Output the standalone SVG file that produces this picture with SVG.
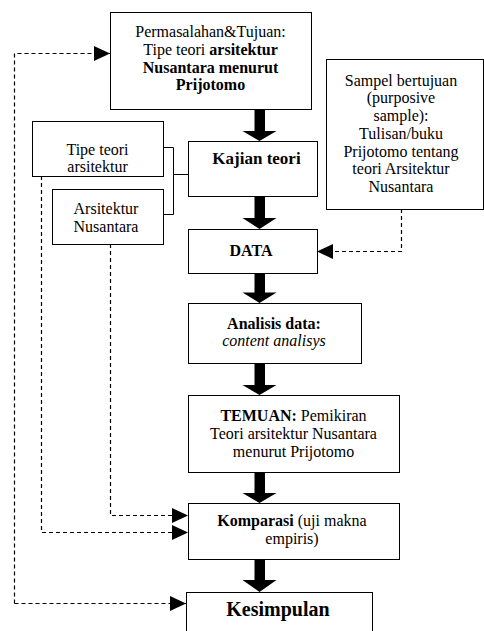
<svg xmlns="http://www.w3.org/2000/svg" width="484" height="631" viewBox="0 0 484 631">
<style>
.box{fill:#fff;stroke:#000;stroke-width:1}
text{font-family:"Liberation Serif","Times New Roman",serif;font-size:16px;fill:#000;text-anchor:middle}
.b{font-weight:bold}
.i{font-style:italic}
.dash{fill:none;stroke:#000;stroke-width:1.2;stroke-dasharray:4 3}
.solid{fill:none;stroke:#000;stroke-width:1}
.big{fill:#000}
</style>
<defs>
<marker id="ah" markerUnits="userSpaceOnUse" markerWidth="16" markerHeight="16" viewBox="0 0 16 16" refX="16" refY="8" orient="auto">
<path d="M0,0.5 L16,8 L0,15.5 Z" fill="#000"/>
</marker>
</defs>
<g id="connectors">
<path class="dash" d="M14.5,603.5 V53.5 H110" marker-end="url(#ah)"/>
<path class="dash" d="M14.5,603.5 H186" marker-end="url(#ah)"/>
<path class="dash" d="M41.5,176 V532.5 H188" marker-end="url(#ah)"/>
<path class="dash" d="M110.5,244 V515.5 H188" marker-end="url(#ah)"/>
<path class="dash" d="M401.5,209 V251.5 H317" marker-end="url(#ah)"/>
<path class="solid" d="M163,147.5 H173.5 V214.5 H163 M173.5,174.5 H188"/>
<polygon class="big" points="254.5,109 265,109 265,131 276.5,131 259.5,141 242.5,131 254.5,131"/>
<polygon class="big" points="254.5,196 265,196 265,218 276.5,218 259.5,229 242.5,218 254.5,218"/>
<polygon class="big" points="254.5,273 265,273 265,292.5 276.5,292.5 259.5,303 242.5,292.5 254.5,292.5"/>
<polygon class="big" points="254.5,363 265,363 265,385 276.5,385 259.5,395 242.5,385 254.5,385"/>
<polygon class="big" points="254.5,472 265,472 265,493 276.5,493 259.5,503 242.5,493 254.5,493"/>
<polygon class="big" points="254.5,559 265,559 265,580 276.5,580 259.5,592 242.5,580 254.5,580"/>
</g>
<g id="n-permasalahan">
<rect class="box" x="110.5" y="12.5" width="201" height="97"/>
<text x="210.5" y="37">Permasalahan&amp;Tujuan:</text>
<text x="210.5" y="55">Tipe teori <tspan class="b">arsitektur</tspan></text>
<text x="210.5" y="72.5" class="b">Nusantara menurut</text>
<text x="210.5" y="90" class="b">Prijotomo</text>
</g>
<g id="n-tipe">
<rect class="box" x="32.5" y="121.5" width="131" height="55"/>
<text x="97.5" y="155">Tipe teori</text>
<text x="97.5" y="171.5">arsitektur</text>
</g>
<g id="n-arsitektur">
<rect class="box" x="52.5" y="189.5" width="111" height="55"/>
<text x="106" y="214">Arsitektur</text>
<text x="106" y="231.5">Nusantara</text>
</g>
<g id="n-kajian">
<rect class="box" x="188.5" y="141.5" width="129" height="55"/>
<text x="256.5" y="164" class="b" style="font-size:17px">Kajian teori</text>
</g>
<g id="n-sampel">
<rect class="box" x="326.5" y="59.5" width="157" height="150"/>
<text x="401" y="85.5">Sampel bertujuan</text>
<text x="401" y="103.3">(purposive</text>
<text x="401" y="121">sample):</text>
<text x="401" y="138.8">Tulisan/buku</text>
<text x="401" y="156.6">Prijotomo tentang</text>
<text x="401" y="174.4">teori Arsitektur</text>
<text x="401" y="192.2">Nusantara</text>
</g>
<g id="n-data">
<rect class="box" x="188.5" y="229.5" width="129" height="44"/>
<text x="251" y="255.5" class="b">DATA</text>
</g>
<g id="n-analisis">
<rect class="box" x="188.5" y="303.5" width="173" height="60"/>
<text x="274" y="328.5" class="b">Analisis data:</text>
<text x="274" y="345.5" class="i">content analisys</text>
</g>
<g id="n-temuan">
<rect class="box" x="188.5" y="395.5" width="211" height="77"/>
<text x="293.5" y="421"><tspan class="b">TEMUAN:</tspan> Pemikiran</text>
<text x="293.5" y="438.5">Teori arsitektur Nusantara</text>
<text x="293.5" y="456.5">menurut Prijotomo</text>
</g>
<g id="n-komparasi">
<rect class="box" x="188.5" y="503.5" width="211" height="56"/>
<text x="292" y="525.5"><tspan class="b">Komparasi</tspan> (uji makna</text>
<text x="292" y="543.5">empiris)</text>
</g>
<g id="n-kesimpulan">
<rect class="box" x="186.5" y="592.5" width="186" height="60"/>
<text x="278" y="616" class="b" style="font-size:20px">Kesimpulan</text>
</g>
</svg>
